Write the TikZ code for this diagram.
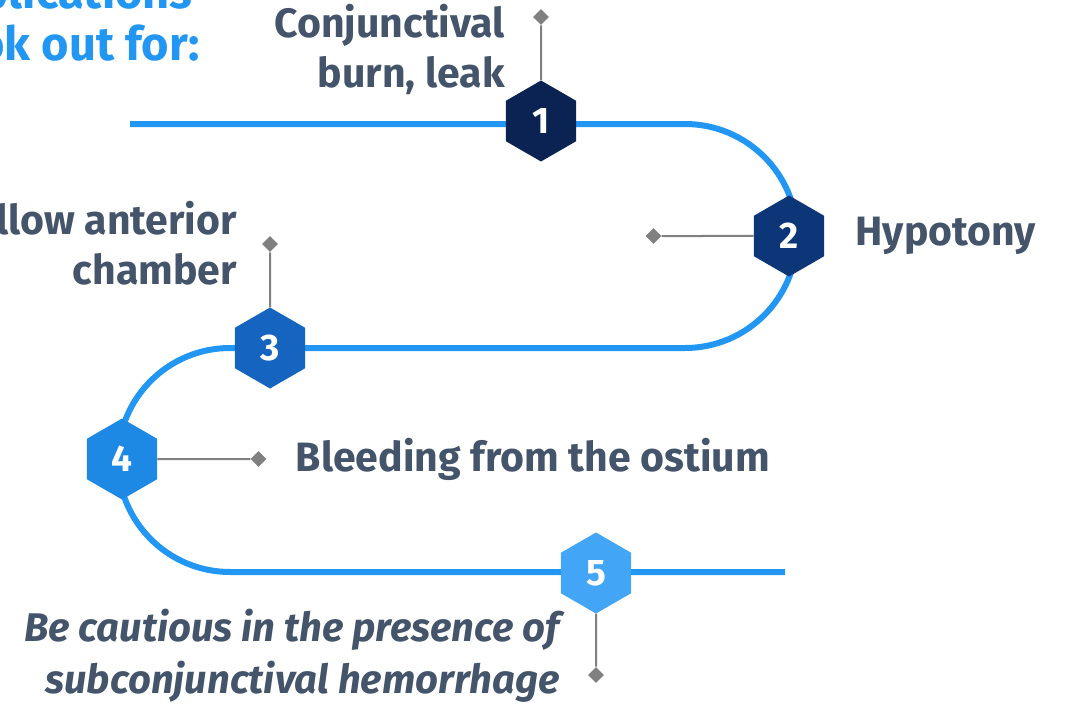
\documentclass[tikz,border=0pt]{standalone}
\usepackage{fontspec}
\setmainfont{Fira Sans}
\usetikzlibrary{shapes.geometric, positioning}

\definecolor{slate}{HTML}{44546A}
\definecolor{trackblue}{HTML}{2196F3}
\definecolor{pingray}{HTML}{808080}
\definecolor{hexone}{HTML}{0B2353}
\definecolor{hextwo}{HTML}{0D3678}
\definecolor{hexthree}{HTML}{1565C0}
\definecolor{hexfour}{HTML}{1E88E5}
\definecolor{hexfive}{HTML}{42A5F5}

\begin{document}
\begin{tikzpicture}[x=1pt, y=-1pt, node distance=31pt,
    every node/.style={inner sep=0pt, text=slate, font=\bfseries\fontsize{41}{50}\selectfont},
    hexa/.style={regular polygon, regular polygon sides=6, shape border rotate=30, minimum size=81pt, text=white, font=\bfseries\fontsize{37}{37}\selectfont},
    marker/.style={diamond, fill=pingray, minimum size=16pt},
    track/.style={draw=trackblue, line width=6pt},
    pinline/.style={draw=pingray, line width=2pt}]
    \useasboundingbox (0,0) rectangle (1066,704);

    % Track
    \draw[track] (130,124) -- (685,124) arc[start angle=-90, end angle=90, radius=112]
        -- (230,348) arc[start angle=270, end angle=90, radius=112] -- (785,572);

    % Nodes
    \node[hexa, fill=hexone] (h1) at (541,121) {1};
    \node[hexa, fill=hextwo] (h2) at (789,236) {2};
    \node[hexa, fill=hexthree] (h3) at (270,348) {3};
    \node[hexa, fill=hexfour] (h4) at (122,459) {4};
    \node[hexa, fill=hexfive] (h5) at (596,573) {5};

    \node[marker, above=55pt of h1] (d1) {};
    \node[marker, left=92pt of h2] (d2) {};
    \node[marker, above=55pt of h3] (d3) {};
    \node[marker, right=93pt of h4] (d4) {};
    \node[marker, below=53pt of h5] (d5) {};

    % Labels
    \node[anchor=south east, align=center, text=trackblue, font=\bfseries\fontsize{47}{52}\selectfont] (title) at (200,61) {Complications\\to look out for:};
    \node[anchor=east, align=right] (lab1) at (505,50) {Conjunctival\\burn, leak};
    \node[right=of h2] (lab2) {Hypotony};
    \node[anchor=east, align=right] (lab3) at (237,243) {Shallow anterior\\chamber};
    \node[right=29pt of d4] (lab4) {Bleeding from the ostium};
    \node[anchor=east, align=right, font=\bfseries\itshape\fontsize{40}{52}\selectfont] (lab5) at (560,656) {Be cautious in the presence of\\subconjunctival hemorrhage};

    % Pins
    \draw[pinline] (h1) -- (d1);
    \draw[pinline] (h2) -- (d2);
    \draw[pinline] (h3) -- (d3);
    \draw[pinline] (h4) -- (d4);
    \draw[pinline] (h5) -- (d5);
\end{tikzpicture}
\end{document}
